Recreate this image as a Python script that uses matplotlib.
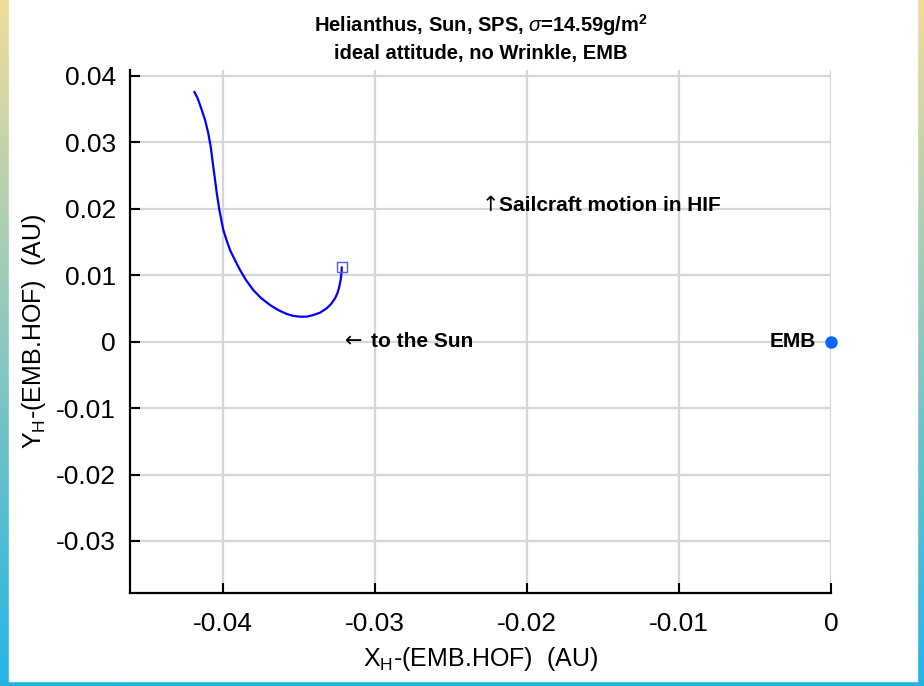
import numpy as np
import matplotlib
matplotlib.use('Agg')
import matplotlib.pyplot as plt
from matplotlib.patches import Rectangle

plt.rcParams['font.family'] = ['Liberation Sans', 'DejaVu Sans']
plt.rcParams['mathtext.fontset'] = 'custom'
plt.rcParams['mathtext.rm'] = 'Liberation Sans'
plt.rcParams['mathtext.it'] = 'Liberation Sans:italic'

# sailcraft trajectory relative to EMB (AU)
traj_x = [-0.04189, -0.04168, -0.04151, -0.04118, -0.04097, -0.04081, -0.04064,
          -0.04041, -0.04024, -0.03998, -0.03977, -0.03954, -0.03922, -0.03888,
          -0.03849, -0.03801, -0.03750, -0.03691, -0.03638, -0.03581, -0.03539,
          -0.03493, -0.03449, -0.03406, -0.03362, -0.03318, -0.03289, -0.03263,
          -0.03247, -0.03235, -0.03225, -0.03219, -0.03219]
traj_y = [0.03756, 0.03662, 0.03556, 0.03331, 0.03131, 0.02929, 0.02629,
          0.02229, 0.01977, 0.01677, 0.01526, 0.01376, 0.01226, 0.01075,
          0.00925, 0.00774, 0.00654, 0.00549, 0.00474, 0.00414, 0.00386,
          0.00373, 0.00374, 0.00398, 0.00433, 0.00499, 0.00564, 0.00650,
          0.00729, 0.00824, 0.00940, 0.01075, 0.01116]

emb_x, emb_y = 0.0, 0.0

x_ticks = [-0.04, -0.03, -0.02, -0.01, 0]
x_labels = ['-0.04', '-0.03', '-0.02', '-0.01', '0']
y_ticks = [0.04, 0.03, 0.02, 0.01, 0, -0.01, -0.02, -0.03]
y_labels = ['0.04', '0.03', '0.02', '0.01', '0', '-0.01', '-0.02', '-0.03']

W, H = 924, 686
fig = plt.figure(figsize=(W / 100, H / 100), dpi=100)

# gradient frame around the white page
bg = fig.add_axes([0, 0, 1, 1], zorder=-10)
bg.axis('off')
top_c = np.array([0xf0, 0xdc, 0x9a]) / 255
bot_c = np.array([0x24, 0xb4, 0xe4]) / 255
t = np.linspace(0, 1, 256)[:, None]
grad = top_c[None, :] * (1 - t) + bot_c[None, :] * t
bg.imshow(grad[:, None, :], aspect='auto', extent=[0, 1, 0, 1])
bg.add_patch(Rectangle((9 / W, 5 / H), (W - 16) / W, 1 - 5 / H,
                       transform=bg.transAxes, color='white', zorder=2))
bg.set_xlim(0, 1)
bg.set_ylim(0, 1)

ax = fig.add_axes([130 / W, 93 / H, 701 / W, 523 / H])
ax.set_xlim(-0.04612, 0)
ax.set_ylim(-0.03782, 0.04083)

ax.grid(True, color='#d6d6d6', linewidth=1.6)
ax.set_axisbelow(True)

ax.plot(traj_x, traj_y, color='#0000ff', linewidth=1.6, zorder=3,
        solid_joinstyle='round', solid_capstyle='round')
ax.plot(traj_x[-1], traj_y[-1], marker='s', markersize=7, markerfacecolor='none',
        markeredgecolor='#5555ff', markeredgewidth=1.0, zorder=4)
ax.plot(emb_x, emb_y, 'o', color='#0a64ff', markersize=8, clip_on=False, zorder=5)

ax.text(emb_x - 0.001, emb_y, 'EMB', fontsize=15, fontweight='bold',
        ha='right', va='center')


def arrow_note(x, y, arrow, label, gap):
    # thin arrow glyph followed by bold label
    ax.text(x, y, arrow, fontsize=15, family=['DejaVu Sans'],
            ha='left', va='center')
    ax.annotate(label, (x, y), xytext=(gap, 0), textcoords='offset points',
                fontsize=15, fontweight='bold', ha='left', va='center')


arrow_note(-0.0320, 0.0, '\u2190', 'to the Sun', 19)
arrow_note(-0.0230, 0.0205, '\u2191', 'Sailcraft motion in HIF', 13)

ax.set_xticks(x_ticks)
ax.set_xticklabels(x_labels)
ax.set_yticks(y_ticks)
ax.set_yticklabels(y_labels)
ax.tick_params(direction='in', length=7, width=1.5, labelsize=19, pad=10)
ax.tick_params(axis='x', pad=14)

for side in ['top', 'right']:
    ax.spines[side].set_visible(False)
for side in ['left', 'bottom']:
    ax.spines[side].set_linewidth(1.6)

ax.set_xlabel(r'X$_\mathregular{H}$-(EMB.HOF)  (AU)', fontsize=18, labelpad=6)
ax.set_ylabel(r'Y$_\mathregular{H}$-(EMB.HOF)  (AU)', fontsize=18, labelpad=6)
ax.set_title('Helianthus, Sun, SPS, $\\sigma$=14.59g/m$^\\mathregular{2}$\n'
             'ideal attitude, no Wrinkle, EMB',
             fontsize=14.5, fontweight='bold', pad=8, linespacing=1.4)

fig.savefig('out.png', dpi=100)
